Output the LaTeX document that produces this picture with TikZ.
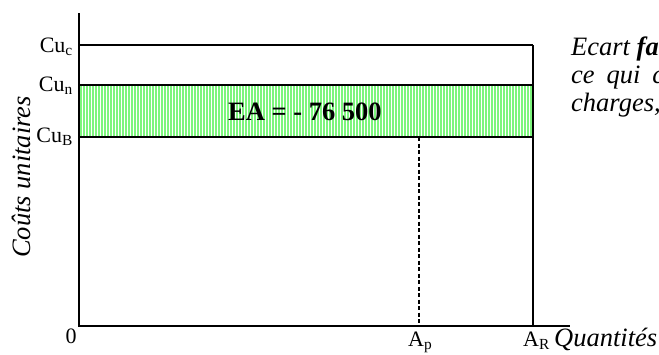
\documentclass[tikz,border=0pt]{standalone}
\usepackage{fontspec}
\setmainfont{Liberation Serif}
\begin{document}
\begin{tikzpicture}[x=1pt,y=-1pt,
  axis/.style={line width=1.8pt},
  hline/.style={line width=1.8pt},
  dashline/.style={line width=1.3pt, dash pattern=on 4pt off 2.5pt},
  stripe/.style={line width=1.6pt, draw={rgb,255:red,125;green,245;blue,125}},
  lbl/.style={font=\fontsize{22}{26}\selectfont, inner sep=0pt},
  ital/.style={font=\fontsize{26.5}{30}\selectfont\itshape, inner sep=0pt},
  eabox/.style={font=\fontsize{26.5}{30}\selectfont\bfseries, inner sep=0pt}]
\useasboundingbox (0,0) rectangle (659,354);
\clip (0,0) rectangle (659,354);
% coordinates
\coordinate (O) at (79,326);
\coordinate (Ytop) at (79,13);
\coordinate (Xend) at (570,326);
\coordinate (Ccl) at (79,45);  \coordinate (Ccr) at (533,45);
\coordinate (Cnl) at (79,85);  \coordinate (Cnr) at (533,85);
\coordinate (Cbl) at (79,137); \coordinate (Cbr) at (533,137);
\coordinate (Pt) at (419,137); \coordinate (Pb) at (419,326);
\coordinate (Rb) at (533,326);
% green striped band
\foreach \x in {81,84,...,531} \draw[stripe] (\x,85) -- (\x,137);
% lines
\draw[hline] (Ccl) -- (Ccr);
\draw[hline] (Cnl) -- (Cnr);
\draw[hline] (Cbl) -- (Cbr);
\draw[hline] (Ccr) -- (Rb);
\draw[dashline] (Pt) -- (Pb);
\draw[axis] (Ytop) -- (O) -- (Xend);
% labels
\node[lbl, anchor=base east] (lc) at (73,52) {Cu\textsubscript{c}};
\node[lbl, anchor=base east] (ln) at (73,91) {Cu\textsubscript{n}};
\node[lbl, anchor=base east] (lb) at (73,142) {Cu\textsubscript{B}};
\node[lbl, anchor=base] (zero) at (71,343) {0};
\node[lbl, anchor=base west] (ap) at (408,346) {A\textsubscript{p}};
\node[lbl, anchor=base west] (ar) at (523,346) {A\textsubscript{R}};
\node[ital, anchor=base west] (qt) at (554,346) {Quantités};
\node[ital, rotate=90] (cu) at (21,177) {Coûts unitaires};
\node[eabox, anchor=base west] (ea) at (228,120) {EA = - 76 500};
\node[ital, anchor=base west] (t1) at (571,55) {Ecart \textbf{favorable}};
\node[ital, anchor=base west] (t2) at (571,83) {ce\hspace{0.45em}qui\hspace{0.45em}correspond};
\node[ital, anchor=base west] (t3) at (571,111) {charges,};
\end{tikzpicture}
\end{document}
